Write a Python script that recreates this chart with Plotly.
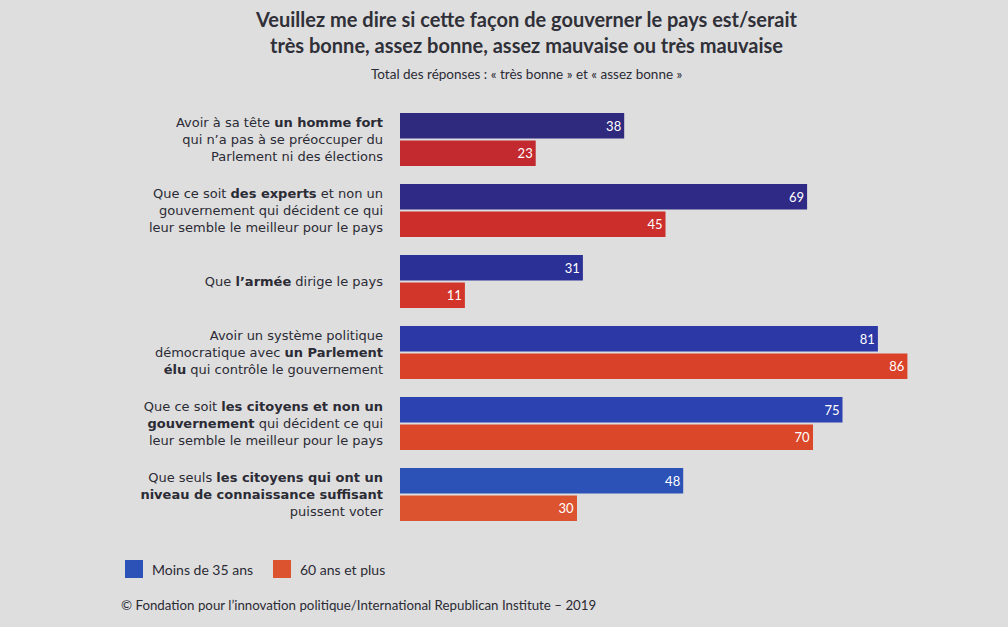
import plotly.graph_objects as go

categories = [
    "Avoir à sa tête <b>un homme fort</b><br>qui n’a pas à se préoccuper du<br>Parlement ni des élections",
    "Que ce soit <b>des experts</b> et non un<br>gouvernement qui décident ce qui<br>leur semble le meilleur pour le pays",
    "Que <b>l’armée</b> dirige le pays",
    "Avoir un système politique<br>démocratique avec <b>un Parlement</b><br><b>élu</b> qui contrôle le gouvernement",
    "Que ce soit <b>les citoyens et non un</b><br><b>gouvernement</b> qui décident ce qui<br>leur semble le meilleur pour le pays",
    "Que seuls <b>les citoyens qui ont un</b><br><b>niveau de connaissance suffisant</b><br>puissent voter",
]
moins_35 = [38, 69, 31, 81, 75, 48]
plus_60 = [23, 45, 11, 86, 70, 30]
series_names = ["Moins de 35 ans", "60 ans et plus"]

title_l1 = "Veuillez me dire si cette façon de gouverner le pays est/serait"
title_l2 = "très bonne, assez bonne, assez mauvaise ou très mauvaise"
subtitle = "Total des réponses : « très bonne » et « assez bonne »"
source = "© Fondation pour l’innovation politique/International Republican Institute – 2019"

# styles (photo shading: darker at top, brighter at bottom)
blue_shades = ["#2f2a7e", "#2f2a86", "#2b3096", "#2b38a6", "#2b42b0", "#2c52b8"]
red_shades = ["#c32a30", "#cb2e2b", "#d2362a", "#d94228", "#db4829", "#dc532f"]
BG = "#dedede"
TXT = "#2b2b35"
FONT = "Lato, 'Open Sans', sans-serif"
LABEL_FONT = "'DejaVu Sans', sans-serif"

# plot area in pixels
L, R, T, B = 400, 77, 104, 97
PW, PH = 1008 - L - R, 627 - T - B


def px(x):
    return (x - L) / PW


def py(y):
    return (627 - B - y) / PH


fig = go.Figure()
fig.add_trace(go.Bar(
    y=categories, x=moins_35, name=series_names[0], orientation="h",
    marker=dict(color=blue_shades, line=dict(width=0)),
    text=moins_35, textposition="inside", insidetextanchor="end",
    textfont=dict(color="white", size=13, family=FONT),
))
fig.add_trace(go.Bar(
    y=categories, x=plus_60, name=series_names[1], orientation="h",
    marker=dict(color=red_shades, line=dict(width=0)),
    text=plus_60, textposition="inside", insidetextanchor="end",
    textfont=dict(color="white", size=13, family=FONT),
))

fig.update_layout(
    width=1008, height=627,
    paper_bgcolor=BG, plot_bgcolor=BG,
    margin=dict(l=L, r=R, t=T, b=B),
    barmode="group", bargap=0.22, bargroupgap=0.08,
    showlegend=False,
    font=dict(family=FONT, color=TXT, size=13),
    xaxis=dict(range=[0, 90], visible=False, fixedrange=True),
    yaxis=dict(autorange="reversed", showgrid=False, zeroline=False,
               showline=False, ticks="", ticklabelstandoff=16,
               tickfont=dict(size=13, color=TXT, family=LABEL_FONT)),
)

# title
fig.add_annotation(text="<b>" + title_l1 + "<br>" + title_l2 + "</b>",
                   xref="paper", yref="paper", x=px(526), y=py(5),
                   xanchor="center", yanchor="top",
                   showarrow=False, font=dict(size=20, color="#303038", family=FONT),
                   align="center")

# subtitle
fig.add_annotation(text=subtitle, xref="paper", yref="paper",
                   x=px(527), y=py(74),
                   xanchor="center", yanchor="middle", showarrow=False,
                   font=dict(size=13.5, color=TXT, family=FONT))

# legend (custom squares)
leg = [(125, series_names[0], blue_shades[-1]), (273, series_names[1], red_shades[-1])]
for x0, name, col in leg:
    fig.add_shape(type="rect", xref="paper", yref="paper",
                  x0=px(x0), x1=px(x0 + 18), y0=py(578), y1=py(560),
                  fillcolor=col, line=dict(width=0))
    fig.add_annotation(text=name, xref="paper", yref="paper",
                       x=px(x0 + 25), y=py(569),
                       xanchor="left", yanchor="middle", showarrow=False,
                       font=dict(size=14, color=TXT, family=FONT))

# footer
fig.add_annotation(text=source, xref="paper", yref="paper",
                   x=px(119), y=py(605),
                   xanchor="left", yanchor="middle", showarrow=False,
                   font=dict(size=13.3, color=TXT, family=FONT))

fig.write_html("out.html")
